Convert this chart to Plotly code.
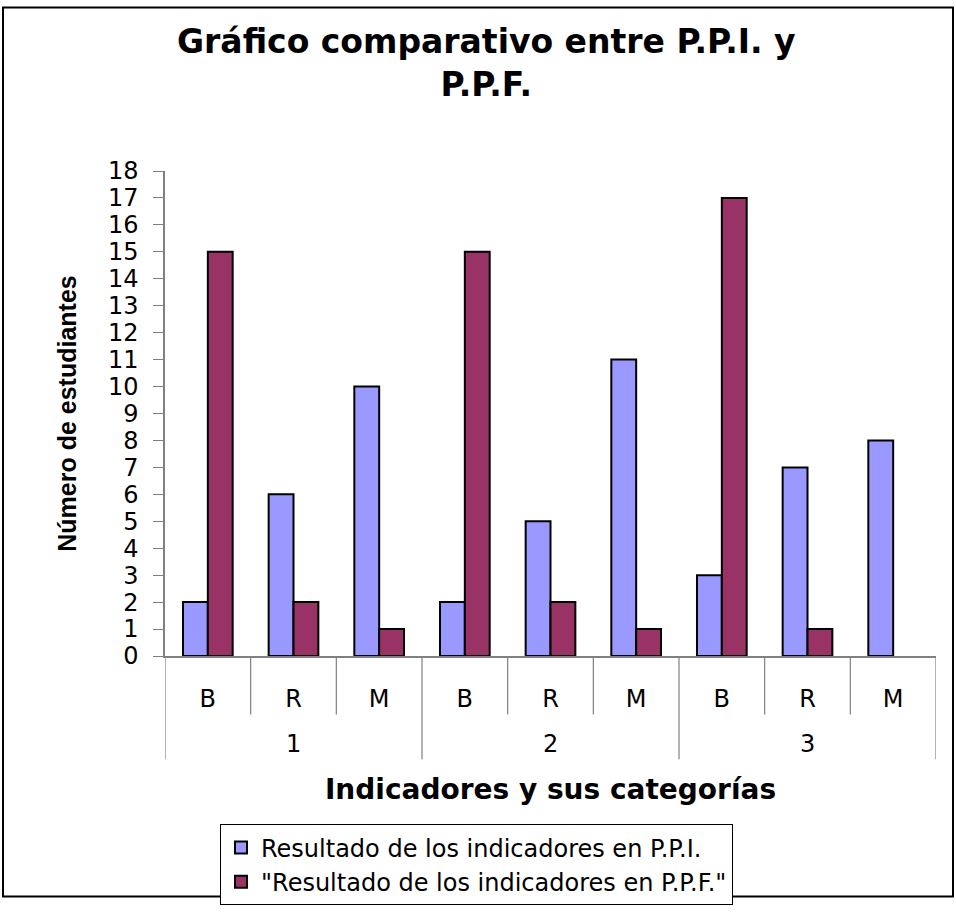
import plotly.graph_objects as go

indicadores = ["1", "2", "3"]
categorias = ["B", "R", "M"]
ppi_values = [2, 6, 10, 2, 5, 11, 3, 7, 8]
ppf_values = [15, 2, 1, 15, 2, 1, 17, 1, 0]
series_names = ["Resultado de los indicadores en P.P.I.",
                "\"Resultado de los indicadores en P.P.F.\""]
y_ticks = list(range(0, 19))

W, H = 956, 917
ML, MR, MT, MB = 165, 20, 171, 248
PW, PH = W - ML - MR, H - MT - MB
SANS = "DejaVu Sans, Verdana, sans-serif"
ARIAL = "Liberation Sans, Arial, sans-serif"
GRAY = "#808080"

n_cat = len(categorias)
x_pos = list(range(len(indicadores) * n_cat))
x_text = [c for _ in indicadores for c in categorias]


def py(px):
    """pixel row -> paper y"""
    return (H - MB - px) / PH


def pxx(px):
    """pixel column -> paper x"""
    return (px - ML) / PW


fig = go.Figure()
fig.add_trace(go.Bar(x=x_pos, y=[v if v else None for v in ppi_values], name=series_names[0],
                     marker=dict(color="#9999FF", line=dict(color="black", width=2))))
fig.add_trace(go.Bar(x=x_pos, y=[v if v else None for v in ppf_values], name=series_names[1],
                     marker=dict(color="#993366", line=dict(color="black", width=2))))

# category separators below the axis
for k in range(len(x_pos) + 1):
    b = k - 0.5
    is_group = (k % n_cat == 0)
    fig.add_shape(type="line", xref="x", yref="paper", x0=b, x1=b,
                  y0=0, y1=py(775 if is_group else 729),
                  line=dict(color=GRAY, width=1.2))

# group labels
for g, name in enumerate(indicadores):
    fig.add_annotation(x=g * n_cat + (n_cat - 1) / 2, xref="x", y=py(759), yref="paper",
                       text=name, showarrow=False, yanchor="middle",
                       font=dict(family=SANS, size=24, color="black"))

# title
fig.add_annotation(x=pxx(486), xref="paper", y=py(16), yref="paper", yanchor="top",
                   xanchor="center", showarrow=False,
                   text="<b>Gráfico comparativo entre P.P.I. y<br>P.P.F.</b>",
                   font=dict(family=SANS, size=33, color="black"))

# outer border
fig.add_shape(type="rect", xref="paper", yref="paper",
              x0=pxx(3), x1=pxx(953), y0=py(916), y1=py(3),
              line=dict(color="black", width=2), layer="below")

fig.update_layout(
    width=W, height=H,
    margin=dict(l=ML, r=MR, t=MT, b=MB),
    paper_bgcolor="white", plot_bgcolor="white",
    barmode="group", bargap=0.42, bargroupgap=0,
    font=dict(family=SANS, color="black", size=24),
    showlegend=True,
    legend=dict(x=pxx(220), y=py(842), xanchor="left", yanchor="top",
                bordercolor="black", borderwidth=1, bgcolor="white",
                font=dict(size=24, family=SANS), traceorder="normal",
                tracegroupgap=0),
    xaxis=dict(range=[-0.5, len(x_pos) - 0.5], tickmode="array", tickvals=x_pos,
               ticktext=x_text, ticks="", ticklen=0, ticklabelstandoff=20,
               showline=True, linecolor=GRAY, linewidth=1.5,
               showgrid=False, zeroline=False, tickfont=dict(size=24, family=SANS),
               title=dict(text="<b>Indicadores y sus categorías</b>",
                          font=dict(size=28, family=SANS), standoff=68)),
    yaxis=dict(range=[0, 18], tickmode="array", tickvals=y_ticks, showline=True,
               linecolor=GRAY, linewidth=1.5, ticks="outside", ticklen=10,
               tickcolor=GRAY, ticklabelstandoff=10,
               showgrid=False, zeroline=False, tickfont=dict(size=24, family=SANS),
               title=dict(text="<b>Número de estudiantes</b>",
                          font=dict(size=25, family=ARIAL), standoff=24)),
)

fig.write_html("out.html", config={"displayModeBar": False},
               post_script="document.body.style.margin='0';")
